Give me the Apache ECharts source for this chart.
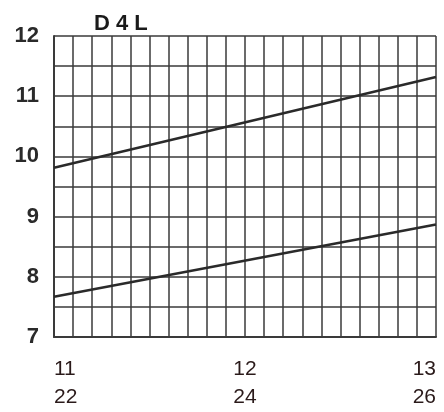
<!DOCTYPE html>
<html>
<head>
<meta charset="utf-8">
<script src="https://cdn.jsdelivr.net/npm/echarts@6/dist/echarts.min.js"></script>
<style>html,body{margin:0;padding:0;background:#fff;}#c{width:444px;height:412px;}</style>
</head>
<body>
<div id="c"></div>
<script>
var titleText = 'D 4 L';
var xTopLabels = {11: '11', 12: '12', 13: '13'};
var xBottomLabels = {11: '22', 12: '24', 13: '26'};
var yTickLabels = {7: '7', 8: '8', 9: '9', 10: '10', 11: '11', 12: '12'};
var upperLine = [[11, 9.81], [13, 11.32]];
var lowerLine = [[11, 7.67], [13, 8.87]];

var chart = echarts.init(document.getElementById('c'));
var gridColor = '#3a3a3a';
chart.setOption({
  animation: false,
  backgroundColor: '#fff',
  title: {
    text: titleText, left: 89, top: 8,
    textStyle: {fontFamily: 'Liberation Sans', fontWeight: 'bold', fontSize: 22, color: '#1a1a1a'}
  },
  grid: {left: 54, right: 8, top: 36, bottom: 75},
  xAxis: {
    type: 'value', min: 11, max: 13, interval: 0.1,
    axisLine: {show: true, lineStyle: {color: gridColor, width: 2}},
    axisTick: {show: false},
    splitLine: {show: true, lineStyle: {color: gridColor, width: 1.5}},
    axisLabel: {
      margin: 18, fontFamily: 'Liberation Sans', fontSize: 21, lineHeight: 28, color: '#2a1a1a',
      alignMinLabel: 'left', alignMaxLabel: 'right',
      formatter: function (v) {
        var r = Math.round(v);
        if (Math.abs(v - r) > 1e-6 || !xTopLabels[r]) return '';
        return xTopLabels[r] + '\n' + xBottomLabels[r];
      }
    }
  },
  yAxis: {
    type: 'value', min: 7, max: 12, interval: 0.5,
    axisLine: {show: true, lineStyle: {color: gridColor, width: 2}},
    axisTick: {show: false},
    splitLine: {show: true, lineStyle: {color: gridColor, width: 1.5}},
    axisLabel: {
      margin: 15, fontFamily: 'Liberation Sans', fontSize: 22, fontWeight: 'bold', color: '#2a2a2a',
      formatter: function (v) {
        var r = Math.round(v);
        if (Math.abs(v - r) > 1e-6 || !yTickLabels[r]) return '';
        return yTickLabels[r];
      }
    }
  },
  series: [
    {type: 'line', data: upperLine, symbol: 'none', lineStyle: {color: '#2a2a2a', width: 2.5}},
    {type: 'line', data: lowerLine, symbol: 'none', lineStyle: {color: '#2a2a2a', width: 2.5}}
  ]
});
</script>
</body>
</html>
